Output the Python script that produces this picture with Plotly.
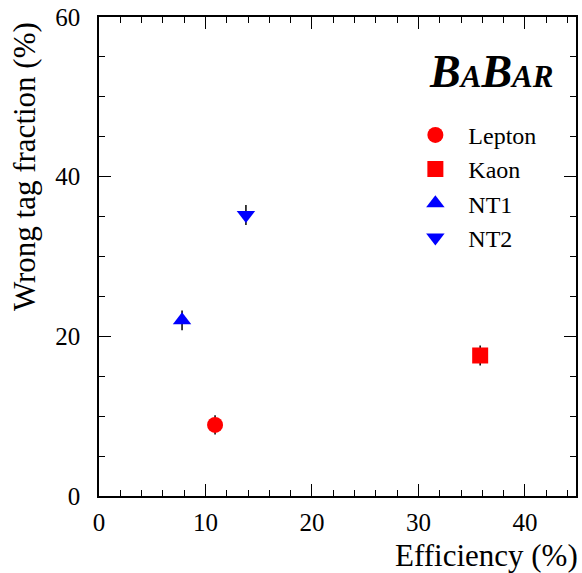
import plotly.graph_objects as go

names = ["Lepton", "Kaon", "NT1", "NT2"]
efficiency = [10.9, 35.8, 7.8, 13.8]
wrong_tag = [8.9, 17.6, 22.0, 35.2]
wrong_tag_err = [1.2, 1.25, 1.25, 1.25]
symbols = ["circle", "square", "triangle-up", "triangle-down"]
colors = ["#ff0000", "#ff0000", "#0000ff", "#0000ff"]

FONT = "Times New Roman"

fig = go.Figure()
for i, n in enumerate(names):
    fig.add_trace(go.Scatter(
        x=[efficiency[i]], y=[wrong_tag[i]], mode="markers", name=n,
        legendgroup=n,
        marker=dict(symbol=symbols[i], color=colors[i], size=16, line=dict(width=0)),
        error_y=dict(type="data", array=[wrong_tag_err[i]], color="black", thickness=1.5, width=0),
    ))

axis_common = dict(
    showgrid=False, zeroline=False, showline=True, linecolor="black", linewidth=1.5,
    mirror="ticks", ticks="inside", ticklen=12, tickwidth=1.2, tickcolor="black",
    tickfont=dict(family=FONT, size=25, color="black"),
)
fig.update_xaxes(range=[0, 44.8], dtick=10, tick0=0,
                 minor=dict(dtick=2, ticks="inside", ticklen=6, tickwidth=1.2, tickcolor="black"),
                 ticklabelstandoff=3, **axis_common)
fig.update_yaxes(range=[0, 60], dtick=20, tick0=0,
                 minor=dict(dtick=5, ticks="inside", ticklen=6, tickwidth=1.2, tickcolor="black"),
                 ticklabelstandoff=12, **axis_common)

fig.add_annotation(text="Efficiency (%)", xref="paper", yref="paper", x=1, y=0,
                   xanchor="right", yanchor="middle", xshift=4, yshift=-59, showarrow=False,
                   font=dict(family=FONT, size=31, color="black"))
fig.add_annotation(text="Wrong tag fraction (%)", xref="paper", yref="paper", x=0, y=1,
                   xanchor="center", yanchor="top", xshift=-74.5, yshift=-3, textangle=-90,
                   showarrow=False, font=dict(family=FONT, size=31, color="black"))
fig.add_annotation(text="<b><i>B<span style='font-size:31px'>A</span>B<span style='font-size:31px'>AR</span></i></b>",
                   xref="paper", yref="paper", x=1, y=1, xanchor="right", yanchor="top",
                   xshift=-21, yshift=-27, showarrow=False,
                   font=dict(family=FONT, size=46, color="black"))

fig.update_layout(
    width=582, height=573,
    margin=dict(l=98.5, r=4, t=15.5, b=76.5),
    plot_bgcolor="white", paper_bgcolor="white",
    showlegend=True,
    legend=dict(x=0.636, y=0.80, xanchor="left", yanchor="top", itemwidth=56,
                font=dict(family=FONT, size=24, color="black"), bgcolor="rgba(0,0,0,0)",
                tracegroupgap=0, itemclick=False),
)

fig.write_html("out.html")
